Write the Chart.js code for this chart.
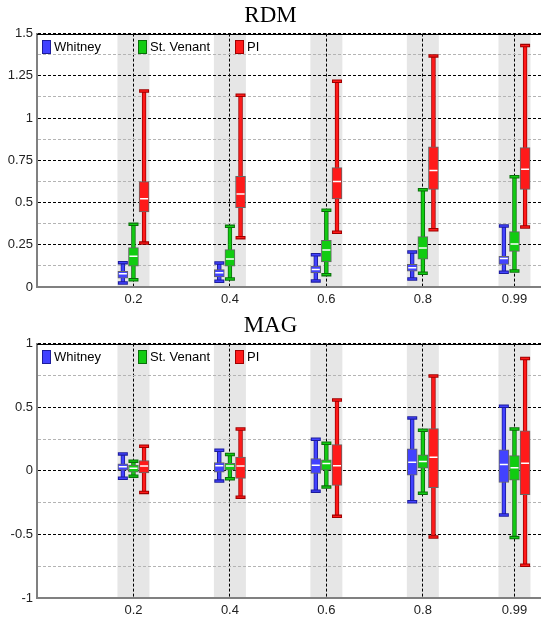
<!DOCTYPE html>
<html><head><meta charset="utf-8">
<script src="https://cdn.jsdelivr.net/npm/chart.js@4.4.1/dist/chart.umd.min.js"></script>
<style>html,body{margin:0;padding:0;background:#fff;} canvas{display:block;}</style>
</head><body>
<canvas id="rdm" width="541" height="310"></canvas>
<canvas id="mag" width="541" height="315"></canvas>
<script>
// ---------- data ----------
const categories = [0.2, 0.4, 0.6, 0.8, 0.99];
const xTickLabels = ['0.2', '0.4', '0.6', '0.8', '0.99'];
const seriesNames = ['Whitney', 'St. Venant', 'PI'];

const rdmYTickLabels = ['0', '0.25', '0.5', '0.75', '1', '1.25', '1.5'];
const magYTickLabels = ['-1', '-0.5', '0', '0.5', '1'];

// RDM
const rdmWhitneyMin = [0.024, 0.034, 0.036, 0.047, 0.087];
const rdmWhitneyQ1  = [0.053, 0.059, 0.083, 0.093, 0.134];
const rdmWhitneyMed = [0.079, 0.085, 0.103, 0.114, 0.168];
const rdmWhitneyQ3  = [0.093, 0.103, 0.124, 0.134, 0.182];
const rdmWhitneyMax = [0.144, 0.142, 0.191, 0.207, 0.361];

const rdmVenantMin = [0.043, 0.047, 0.073, 0.081, 0.095];
const rdmVenantQ1  = [0.124, 0.124, 0.148, 0.164, 0.211];
const rdmVenantMed = [0.182, 0.166, 0.219, 0.231, 0.255];
const rdmVenantQ3  = [0.233, 0.221, 0.276, 0.298, 0.328];
const rdmVenantMax = [0.371, 0.359, 0.454, 0.576, 0.653];

const rdmPIMin = [0.260, 0.292, 0.324, 0.339, 0.355];
const rdmPIQ1  = [0.444, 0.470, 0.521, 0.578, 0.578];
const rdmPIMed = [0.523, 0.551, 0.624, 0.689, 0.697];
const rdmPIQ3  = [0.624, 0.655, 0.707, 0.829, 0.825];
const rdmPIMax = [1.160, 1.135, 1.218, 1.368, 1.429];

// MAG
const magWhitneyMin = [-0.058, -0.081, -0.160, -0.243, -0.348];
const magWhitneyQ1  = [0.005, -0.010, -0.021, -0.034, -0.092];
const magWhitneyMed = [0.031, 0.039, 0.044, 0.068, 0.050];
const magWhitneyQ3  = [0.055, 0.065, 0.097, 0.172, 0.164];
const magWhitneyMax = [0.133, 0.162, 0.248, 0.416, 0.507];

const magVenantMin = [-0.042, -0.063, -0.128, -0.177, -0.525];
const magVenantQ1  = [-0.010, 0.005, 0.005, 0.021, -0.073];
const magVenantMed = [0.020, 0.037, 0.057, 0.073, 0.024];
const magVenantQ3  = [0.045, 0.058, 0.086, 0.125, 0.119];
const magVenantMax = [0.076, 0.128, 0.217, 0.319, 0.329];

const magPIMin = [-0.170, -0.207, -0.358, -0.520, -0.742];
const magPIQ1  = [-0.016, -0.060, -0.115, -0.133, -0.187];
const magPIMed = [0.037, 0.037, 0.039, 0.107, 0.060];
const magPIQ3  = [0.081, 0.107, 0.206, 0.332, 0.314];
const magPIMax = [0.193, 0.329, 0.557, 0.745, 0.883];

// ---------- styles ----------
const fillColors = ['#4242ff', '#11cc11', '#ff1a1a'];
const darkColors = ['#1c1c9c', '#0a6e0a', '#a00000'];
const SERIES_OFFSET = [-0.022, 0, 0.022];
const LEGEND_ANCHORS = [0, 0.2, 0.4];
const FONT = "'Liberation Sans', Arial, sans-serif";

function buildDatasets(series) {
  const ds = [];
  series.forEach((s, k) => {
    const pts = arr => categories.map((c, i) => ({x: c + SERIES_OFFSET[k], y: arr[i]}));
    const range = (a, b) => categories.map((c, i) => ({x: c + SERIES_OFFSET[k], y: [a[i], b[i]]}));
    ds.push({type: 'bar', label: seriesNames[k] + ' whisker', data: range(s.min, s.max),
      backgroundColor: fillColors[k], borderColor: darkColors[k], borderWidth: 1, borderSkipped: false,
      grouped: false, barPercentage: 2, categoryPercentage: 1, barThickness: 4, maxBarThickness: 4, order: 5});
    ds.push({type: 'bar', label: seriesNames[k], data: range(s.q1, s.q3),
      backgroundColor: fillColors[k], borderColor: '#666', borderWidth: 1, borderSkipped: false,
      grouped: false, barPercentage: 2, categoryPercentage: 1, barThickness: 10, maxBarThickness: 10, order: 4});
    const caps = pts(s.min).concat(pts(s.max));
    ds.push({type: 'scatter', data: caps, showLine: false, pointStyle: 'line', pointRadius: 5,
      pointBorderWidth: 3.5, pointBorderColor: darkColors[k], pointBackgroundColor: darkColors[k], order: 3});
    ds.push({type: 'scatter', data: caps, showLine: false, pointStyle: 'line', pointRadius: 4,
      pointBorderWidth: 1.4, pointBorderColor: fillColors[k], pointBackgroundColor: fillColors[k], order: 2});
    ds.push({type: 'scatter', data: pts(s.med), showLine: false, pointStyle: 'line', pointRadius: 4,
      pointBorderWidth: 1.5, pointBorderColor: '#ffffff', pointBackgroundColor: '#ffffff', order: 1});
  });
  return ds;
}

const decorPlugin = {
  id: 'decor',
  beforeDraw(chart) {
    const {ctx, chartArea: a, scales: {x}} = chart;
    ctx.save();
    ctx.fillStyle = '#e6e6e6';
    categories.forEach(c => {
      const px = x.getPixelForValue(c);
      ctx.fillRect(px - 16, a.top, 32, a.bottom - a.top);
    });
    ctx.restore();
  },
  afterDatasetsDraw(chart) {
    const {ctx, chartArea: a, scales: {x}} = chart;
    ctx.save();
    // top frame line
    ctx.strokeStyle = '#000';
    ctx.lineWidth = 1;
    ctx.beginPath();
    ctx.moveTo(a.left, Math.round(a.top) + 0.5);
    ctx.lineTo(a.right, Math.round(a.top) + 0.5);
    ctx.stroke();
    // legend
    ctx.font = '13px ' + FONT;
    ctx.textBaseline = 'middle';
    ctx.textAlign = 'left';
    seriesNames.forEach((name, k) => {
      const px = Math.round(x.getPixelForValue(LEGEND_ANCHORS[k])) + 5;
      const py = Math.round(a.top) + 6;
      ctx.fillStyle = fillColors[k];
      ctx.fillRect(px, py, 9, 14);
      ctx.strokeStyle = darkColors[k];
      ctx.lineWidth = 1;
      ctx.strokeRect(px + 0.5, py + 0.5, 8, 13);
      ctx.fillStyle = '#000';
      ctx.fillText(name, px + 12, py + 7.5);
    });
    ctx.restore();
  }
};

function makeChart(id, title, series, yMin, yMax, yStep, yLabels, xAxisHeight) {
  const findLabel = v => {
    const idx = yLabels.findIndex(l => Math.abs(parseFloat(l) - v) < 1e-6);
    return idx >= 0 ? yLabels[idx] : '';
  };
  return new Chart(document.getElementById(id), {
    type: 'scatter',
    data: {datasets: buildDatasets(series)},
    plugins: [decorPlugin],
    options: {
      responsive: false,
      animation: false,
      devicePixelRatio: 1,
      events: [],
      layout: {padding: 0, autoPadding: false},
      plugins: {
        legend: {display: false},
        tooltip: {enabled: false},
        title: {display: true, text: title, color: '#000',
          font: {family: "'Liberation Serif', 'Times New Roman', serif", size: 23, weight: 'normal'},
          padding: {top: 2, bottom: 4}}
      },
      scales: {
        x: {
          type: 'linear', min: 0, max: 1.045, offset: false,
          grid: {offset: false, color: '#000', lineWidth: 1, drawTicks: false},
          border: {color: '#808080', width: 2, dash: [3, 2]},
          ticks: {autoSkip: false, padding: 5, color: '#222', font: {family: FONT, size: 13},
            callback: (v, i) => xTickLabels[i] ?? ''},
          afterBuildTicks: s => { s.ticks = categories.map(v => ({value: v})); },
          afterFit: s => { s.height = xAxisHeight; s.paddingLeft = 0; s.paddingRight = 0; }
        },
        y: {
          type: 'linear', min: yMin, max: yMax,
          grid: {drawTicks: false, lineWidth: 1,
            color: ctx => (ctx.tick && findLabel(ctx.tick.value) !== '') ? '#000' : '#b4b4b4'},
          border: {color: '#808080', width: 2, dash: [3, 2]},
          ticks: {stepSize: yStep, autoSkip: false, padding: 4, color: '#222',
            font: {family: FONT, size: 13}, callback: v => findLabel(v)},
          afterFit: s => { s.width = 37; }
        }
      }
    }
  });
}

makeChart('rdm', 'RDM', [
  {min: rdmWhitneyMin, q1: rdmWhitneyQ1, med: rdmWhitneyMed, q3: rdmWhitneyQ3, max: rdmWhitneyMax},
  {min: rdmVenantMin, q1: rdmVenantQ1, med: rdmVenantMed, q3: rdmVenantQ3, max: rdmVenantMax},
  {min: rdmPIMin, q1: rdmPIQ1, med: rdmPIMed, q3: rdmPIQ3, max: rdmPIMax}
], 0, 1.5, 0.125, rdmYTickLabels, 23);

makeChart('mag', 'MAG', [
  {min: magWhitneyMin, q1: magWhitneyQ1, med: magWhitneyMed, q3: magWhitneyQ3, max: magWhitneyMax},
  {min: magVenantMin, q1: magVenantQ1, med: magVenantMed, q3: magVenantQ3, max: magVenantMax},
  {min: magPIMin, q1: magPIQ1, med: magPIMed, q3: magPIQ3, max: magPIMax}
], -1, 1, 0.25, magYTickLabels, 27);
</script>
</body></html>
